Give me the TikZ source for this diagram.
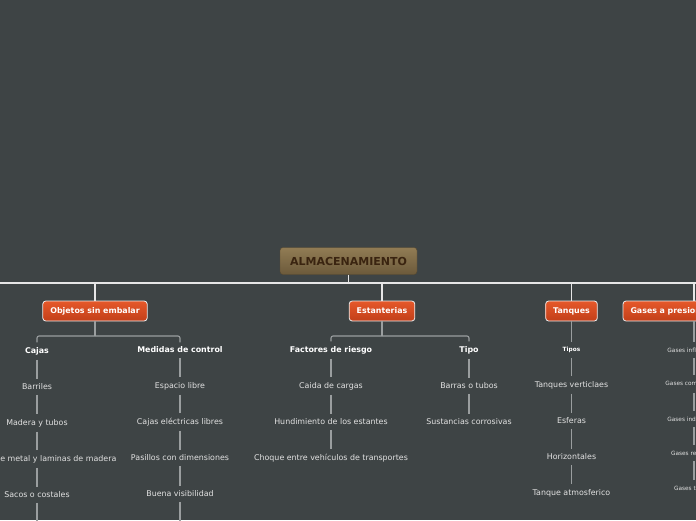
\documentclass[tikz,border=0pt]{standalone}
\usepackage{fontspec}
\setmainfont{DejaVu Sans}
\definecolor{bgcol}{HTML}{3E4445}
\definecolor{rootTop}{HTML}{917C54}
\definecolor{rootBot}{HTML}{6C5A3B}
\definecolor{rootText}{HTML}{3A2410}
\definecolor{topicTop}{HTML}{E5582A}
\definecolor{topicBot}{HTML}{C23F19}
\definecolor{mainline}{HTML}{E6E6E6}
\definecolor{subline}{HTML}{9A9E9F}
\definecolor{leafText}{HTML}{E2E2E2}
\tikzset{
  root/.style={rounded corners=3pt, top color=rootTop, bottom color=rootBot,
    draw=rootBot!80!black, line width=.4pt, text=rootText,
    font=\bfseries\fontsize{11}{13}\selectfont,
    minimum width=137pt, minimum height=27pt, inner sep=0pt},
  topic/.style={rounded corners=3pt, top color=topicTop, bottom color=topicBot,
    draw=white!85!gray, line width=.8pt, text=white,
    font=\bfseries\fontsize{7.9}{9}\selectfont,
    minimum height=20pt, inner xsep=7.5pt, inner ysep=0pt},
  sub/.style={text=white, font=\bfseries\fontsize{7.9}{9}\selectfont,
    inner xsep=2pt, inner ysep=4.5pt},
  leaf/.style={text=leafText, font=\fontsize{7.9}{9}\selectfont,
    inner xsep=2pt, inner ysep=4.5pt},
  tinysub/.style={text=white, font=\bfseries\fontsize{5.8}{7}\selectfont,
    inner xsep=2pt, inner ysep=5pt},
  tinyleaf/.style={text=leafText, font=\fontsize{5.8}{7}\selectfont,
    inner xsep=2pt, inner ysep=6pt},
  mainlink/.style={draw=mainline, line width=1.2pt},
  link/.style={draw=subline, line width=1.1pt, rounded corners=2pt},
}
\begin{document}
\begin{tikzpicture}[x=1pt, y=-1pt]
  \useasboundingbox (0,0) rectangle (696,520);
  \clip (0,0) rectangle (696,520);
  \fill[bgcol] (0,0) rectangle (696,520);

  % main branches
  \coordinate (barL) at (-20,283);
  \coordinate (barR) at (720,283);
  \node[root] (almacen) at (348.5,261) {ALMACENAMIENTO};
  \node[topic] (objetos) at (95,311) {Objetos sin embalar};
  \node[topic] (estant) at (382,311) {Estanterias};
  \node[topic] (tanques) at (571.5,311) {Tanques};
  \node[topic, text width=127pt, align=left] (gases) at (694,311) {Gases a presion};

  % objetos sin embalar
  \coordinate (forkObj) at (95,336);
  \node[sub] (cajas) at (37,351) {Cajas};
  \node[leaf] (barriles) at (37,387) {Barriles};
  \node[leaf] (madera) at (37,423) {Madera y tubos};
  \node[leaf] (placas) at (37,459) {Planchas de metal y laminas de madera};
  \node[leaf] (sacos) at (37,495) {Sacos o costales};
  \coordinate (cajasEnd) at (37,530);
  \node[sub] (medidas) at (180,350) {Medidas de control};
  \node[leaf] (espacio) at (180,386) {Espacio libre};
  \node[leaf] (cajasel) at (180,422) {Cajas eléctricas libres};
  \node[leaf] (pasillos) at (180,458) {Pasillos con dimensiones};
  \node[leaf] (visib) at (180,494) {Buena visibilidad};
  \coordinate (medidasEnd) at (180,530);

  % estanterias
  \coordinate (forkEst) at (382,336);
  \node[sub] (factores) at (331,350) {Factores de riesgo};
  \node[leaf] (caida) at (331,386) {Caida de cargas};
  \node[leaf] (hundim) at (331,422) {Hundimiento de los estantes};
  \node[leaf] (choque) at (331,458) {Choque entre vehículos de transportes};
  \node[sub] (tipo) at (469,350) {Tipo};
  \node[leaf] (barras) at (469,386) {Barras o tubos};
  \node[leaf] (sustan) at (469,422) {Sustancias corrosivas};

  % tanques
  \node[tinysub] (tipos) at (571.5,350) {Tipos};
  \node[leaf] (vertic) at (571.5,385) {Tanques verticlaes};
  \node[leaf] (esferas) at (571.5,421) {Esferas};
  \node[leaf] (horiz) at (571.5,457) {Horizontales};
  \node[leaf] (atmosf) at (571.5,493) {Tanque atmosferico};

  % gases a presion
  \node[tinyleaf] (ginfl) at (694,350) {Gases inflamables};
  \node[tinyleaf] (gcomp) at (694,384) {Gases comprimidos};
  \node[tinyleaf] (gind) at (694,419) {Gases industriales};
  \node[tinyleaf] (greac) at (694,453) {Gases reactivos};
  \node[tinyleaf] (gtox) at (694,488) {Gases toxicos};

  \begin{scope}[mainlink]
    \draw (barL) to (barR);
    \draw (almacen.south) to (almacen.south |- barL);
    \draw (objetos.north) to (objetos.north |- barL);
    \draw (estant.north) to (estant.north |- barL);
    \draw (tanques.north) to (tanques.north |- barL);
    \draw (gases.north) to (gases.north |- barL);
  \end{scope}
  \begin{scope}[link]
    \draw (objetos.south) to (forkObj);
    \draw (forkObj) -| (cajas.north);
    \draw (forkObj) -| (medidas.north);
    \draw (cajas) to (barriles);
    \draw (barriles) to (madera);
    \draw (madera) to (placas);
    \draw (placas) to (sacos);
    \draw (sacos) to (cajasEnd);
    \draw (medidas) to (espacio);
    \draw (espacio) to (cajasel);
    \draw (cajasel) to (pasillos);
    \draw (pasillos) to (visib);
    \draw (visib) to (medidasEnd);
    \draw (estant.south) to (forkEst);
    \draw (forkEst) -| (factores.north);
    \draw (forkEst) -| (tipo.north);
    \draw (factores) to (caida);
    \draw (caida) to (hundim);
    \draw (hundim) to (choque);
    \draw (tipo) to (barras);
    \draw (barras) to (sustan);
    \draw (tanques) to (tipos);
    \draw (tipos) to (vertic);
    \draw (vertic) to (esferas);
    \draw (esferas) to (horiz);
    \draw (horiz) to (atmosf);
    \draw (gases) to (ginfl);
    \draw (ginfl) to (gcomp);
    \draw (gcomp) to (gind);
    \draw (gind) to (greac);
    \draw (greac) to (gtox);
  \end{scope}
\end{tikzpicture}
\end{document}
